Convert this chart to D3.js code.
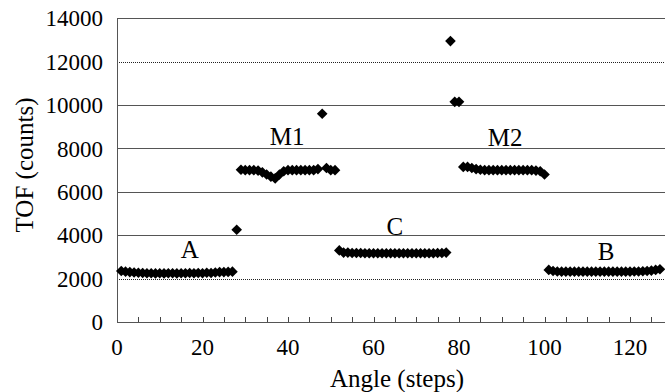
<!DOCTYPE html>
<html>
<head>
<meta charset="utf-8">
<script src="https://cdn.jsdelivr.net/npm/d3@7"></script>
</head>
<body style="margin:0">
<svg id="chart" width="665" height="392" style="display:block"></svg>
<script>
// ---- data ----
const angles = [
  1,2,3,4,5,6,7,8,9,10,11,12,13,14,15,16,17,18,19,20,21,22,23,24,25,26,27,
  28,
  29,30,31,32,33,34,35,36,37,38,39,40,41,42,43,44,45,46,47,48,49,50,51,
  52,53,54,55,56,57,58,59,60,61,62,63,64,65,66,67,68,69,70,71,72,73,74,75,76,77,
  78,79,80,
  81,82,83,84,85,86,87,88,89,90,91,92,93,94,95,96,97,98,99,100,
  101,102,103,104,105,106,107,108,109,110,111,112,113,114,115,116,117,118,119,120,121,122,123,124,125,126,127
];
const tof = [
  // A (1-27)
  2350,2320,2300,2280,2270,2260,2250,2250,2240,2250,2240,2250,2250,2240,2250,2250,2260,2250,2260,2250,2270,2260,2280,2300,2300,2310,2320,
  // transition
  4250,
  // M1 (29-51)
  7020,7000,7000,7000,6980,6900,6800,6700,6620,6800,6950,7000,7000,7000,7000,7000,7000,7000,7050,9600,7100,7000,7000,
  // C (52-77)
  3300,3200,3200,3180,3180,3180,3170,3170,3170,3170,3170,3170,3170,3170,3170,3170,3170,3170,3170,3170,3170,3170,3170,3180,3180,3200,
  // transition
  12950,10150,10150,
  // M2 (81-100)
  7150,7150,7100,7050,7020,7000,7000,7000,7000,7000,7000,7000,7000,7000,7000,7000,7000,6980,6950,6800,
  // B (101-127)
  2400,2350,2330,2320,2320,2320,2320,2320,2320,2320,2320,2320,2320,2320,2320,2320,2320,2320,2320,2320,2330,2330,2340,2350,2370,2400,2430
];
const xTicks = [0,20,40,60,80,100,120];
const xMinorTicks = [5,10,15,25,30,35,45,50,55,65,70,75,85,90,95,105,110,115,125];
const yTicks = [0,2000,4000,6000,8000,10000,12000,14000];
const dottedGrid = [2000,12000];
const solidGrid = [4000,6000,8000,10000,14000];
const regionLabels = ["A","M1","C","M2","B"];
const regionLabelX = [17,39.8,65,90.8,114.4];
const regionLabelY = [2950,8160,4010,8110,2858];
const xTitle = "Angle (steps)";
const yTitle = "TOF (counts)";

// ---- layout ----
const svg = d3.select("#chart");
svg.append("rect").attr("width",665).attr("height",392).attr("fill","#fff");
const x = d3.scaleLinear().domain([0,130]).range([117, 117 + 130*4.275]);
const y = d3.scaleLinear().domain([0,14000]).range([322, 18.3]);
const xEnd = 665;

function serif(sel, size) {
  sel.attr("font-family", "Liberation Serif")
     .style("font-family", '"Liberation Serif"')
     .style("font-size", size + "px")
     .attr("fill", "#000");
}

// gridlines
svg.append("g").selectAll("line").data(solidGrid).join("line")
  .attr("x1", x(0)).attr("x2", xEnd)
  .attr("y1", d => Math.round(y(d))+0.5).attr("y2", d => Math.round(y(d))+0.5)
  .attr("stroke", "#555").attr("stroke-width", 1);
svg.append("g").selectAll("line").data(dottedGrid).join("line")
  .attr("x1", x(0)).attr("x2", xEnd)
  .attr("y1", d => Math.round(y(d))+0.5).attr("y2", d => Math.round(y(d))+0.5)
  .attr("stroke", "#222").attr("stroke-width", 1).attr("stroke-dasharray", "1,1");

// y axis line
svg.append("line").attr("x1", Math.round(x(0))+0.5).attr("x2", Math.round(x(0))+0.5)
  .attr("y1", y(14000)).attr("y2", y(0)).attr("stroke", "#555");
// y tick labels
svg.append("g").selectAll("text").data(yTicks).join("text")
  .attr("x", x(0) - 14).attr("y", d => y(d)).attr("dy", "0.35em")
  .attr("text-anchor", "end")
  .call(serif, 23)
  .text(d => d3.format("d")(d));

// x axis line
svg.append("line").attr("x1", x(0)).attr("x2", xEnd)
  .attr("y1", Math.round(y(0))+0.5).attr("y2", Math.round(y(0))+0.5).attr("stroke", "#555");
// x tick labels
svg.append("g").selectAll("text").data(xTicks).join("text")
  .attr("x", d => x(d)).attr("y", y(0) + 33)
  .attr("text-anchor", "middle")
  .call(serif, 23)
  .text(d => d3.format("d")(d));
// inside ticks (pointing up)
svg.append("g").selectAll("line").data(xTicks.concat(xMinorTicks).filter(d => d > 0)).join("line")
  .attr("x1", d => Math.round(x(d))+0.5).attr("x2", d => Math.round(x(d))+0.5)
  .attr("y1", Math.round(y(0))).attr("y2", Math.round(y(0))-5)
  .attr("stroke", "#444");

// markers
const diamond = d3.symbol().type(d3.symbolDiamond2).size(72);
svg.append("g").selectAll("path").data(angles).join("path")
  .attr("transform", (d,i) => `translate(${x(d)},${y(tof[i])})`)
  .attr("d", diamond)
  .attr("fill", "#000");

// region labels
svg.append("g").selectAll("text").data(regionLabels).join("text")
  .attr("x", (d,i) => x(regionLabelX[i]))
  .attr("y", (d,i) => y(regionLabelY[i]))
  .attr("text-anchor","middle")
  .call(serif, 25)
  .text(d => d);

// axis titles
svg.append("text").attr("x", (117+665)/2 + 6).attr("y", 387).attr("text-anchor","middle")
  .call(serif, 25).text(xTitle);
svg.append("text").attr("transform", "translate(33,165) rotate(-90)").attr("text-anchor","middle")
  .call(serif, 25).text(yTitle);
</script>
</body>
</html>
